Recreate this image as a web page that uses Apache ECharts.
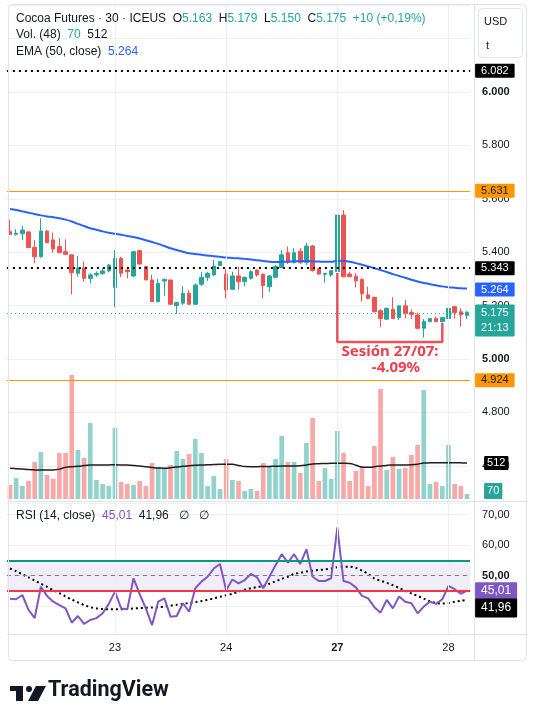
<!DOCTYPE html>
<html>
<head>
<meta charset="utf-8">
<script src="https://cdn.jsdelivr.net/npm/echarts@6/dist/echarts.min.js"></script>
<style>
  html, body { margin: 0; padding: 0; background: #fff; }
  #chart { width: 536px; height: 709px; }
</style>
</head>
<body>
<div id="chart"></div>
<script>
// sesiones visibles (velas de 30 min)
const sessions = ['22', '23', '24', '27', '28'];
const sessionBars = [17, 18, 18, 18, 4];
const sessionStart = [1, 0, 0, 0, 0];
const barTimes = ['04:45', '05:15', '05:45', '06:15', '06:45', '07:15', '07:45', '08:15', '08:45',
  '09:15', '09:45', '10:15', '10:45', '11:15', '11:45', '12:15', '12:45', '13:15'];
const dayTicks = ['23', '24', '27', '28'];

// [open, close, low, high]
const ohlc = [
  [5.477, 5.467, 5.464, 5.521], [5.467, 5.471, 5.462, 5.486], [5.469, 5.483, 5.446, 5.499],
  [5.476, 5.418, 5.416, 5.478], [5.418, 5.383, 5.358, 5.446], [5.383, 5.479, 5.379, 5.527],
  [5.479, 5.436, 5.433, 5.483], [5.446, 5.412, 5.398, 5.473], [5.421, 5.398, 5.398, 5.452],
  [5.402, 5.392, 5.390, 5.448], [5.390, 5.323, 5.242, 5.390], [5.321, 5.340, 5.308, 5.386],
  [5.340, 5.302, 5.290, 5.365], [5.302, 5.315, 5.283, 5.321], [5.315, 5.320, 5.308, 5.328],
  [5.320, 5.330, 5.315, 5.340], [5.330, 5.352, 5.325, 5.356],
  [5.268, 5.377, 5.194, 5.408], [5.377, 5.321, 5.306, 5.383], [5.333, 5.327, 5.302, 5.343],
  [5.311, 5.402, 5.306, 5.405], [5.406, 5.356, 5.352, 5.408], [5.346, 5.296, 5.296, 5.348],
  [5.296, 5.215, 5.215, 5.315], [5.215, 5.283, 5.212, 5.300], [5.292, 5.298, 5.236, 5.302],
  [5.296, 5.205, 5.202, 5.296], [5.200, 5.211, 5.169, 5.213], [5.209, 5.246, 5.202, 5.273],
  [5.246, 5.205, 5.202, 5.258], [5.205, 5.277, 5.202, 5.283], [5.280, 5.306, 5.273, 5.327],
  [5.306, 5.321, 5.293, 5.327], [5.315, 5.348, 5.311, 5.371], [5.350, 5.365, 5.349, 5.367],
  [5.318, 5.258, 5.227, 5.336], [5.261, 5.311, 5.261, 5.327], [5.311, 5.290, 5.261, 5.346],
  [5.290, 5.306, 5.271, 5.308], [5.302, 5.327, 5.298, 5.333], [5.333, 5.315, 5.308, 5.336],
  [5.318, 5.275, 5.227, 5.318], [5.271, 5.311, 5.252, 5.315], [5.306, 5.346, 5.302, 5.352],
  [5.343, 5.390, 5.340, 5.408], [5.398, 5.361, 5.356, 5.421], [5.361, 5.398, 5.358, 5.415],
  [5.404, 5.361, 5.356, 5.415], [5.361, 5.423, 5.352, 5.436], [5.423, 5.331, 5.327, 5.427],
  [5.338, 5.318, 5.315, 5.340], [5.317, 5.321, 5.286, 5.321], [5.315, 5.331, 5.308, 5.333],
  [5.327, 5.539, 5.325, 5.558], [5.539, 5.308, 5.306, 5.558], [5.318, 5.308, 5.306, 5.327],
  [5.310, 5.293, 5.268, 5.321], [5.298, 5.244, 5.215, 5.302], [5.240, 5.227, 5.223, 5.271],
  [5.231, 5.177, 5.174, 5.233], [5.181, 5.152, 5.119, 5.186], [5.149, 5.190, 5.149, 5.192],
  [5.186, 5.152, 5.149, 5.231], [5.155, 5.199, 5.146, 5.199], [5.199, 5.171, 5.152, 5.221],
  [5.174, 5.167, 5.149, 5.186], [5.165, 5.115, 5.111, 5.174], [5.115, 5.140, 5.081, 5.149],
  [5.140, 5.152, 5.137, 5.152], [5.152, 5.140, 5.137, 5.159], [5.140, 5.155, 5.137, 5.158],
  [5.152, 5.190, 5.086, 5.231], [5.196, 5.174, 5.152, 5.199], [5.177, 5.165, 5.121, 5.190],
  [5.163, 5.175, 5.150, 5.179]
];

const volumes = [200, 299, 185, 256, 527, 669, 342, 290, 655, 655, 1764, 697, 583, 1081, 271, 214, 185,
  1010, 242, 214, 200, 256, 185, 512, 455, 427, 484, 683, 569, 640, 854, 655, 185, 327, 143,
  569, 271, 256, 114, 143, 114, 512, 455, 569, 896, 527, 527, 370, 797, 1152, 256, 441, 285,
  967, 655, 256, 399, 455, 185, 754, 1565, 413, 598, 427, 441, 626, 768, 1550, 214, 242, 185,
  768, 214, 185, 70];

const volumeMA = [437, 432, 426, 418, 414, 412, 412, 414, 425, 450, 460, 465, 475, 482, 484, 485, 485,
  486, 485, 482, 476, 468, 458, 448, 440, 438, 445, 455, 465, 474, 480, 484, 486, 490, 493,
  494, 493, 478, 462, 460, 460, 462, 464, 466, 469, 469, 470, 472, 485, 498, 502, 505, 507,
  508, 508, 506, 480, 455, 452, 458, 470, 478, 483, 484, 485, 487, 495, 512, 514, 515, 516,
  516, 515, 514, 512];

const ema50 = [5.562, 5.558, 5.553, 5.548, 5.543, 5.538, 5.534, 5.531, 5.527, 5.522, 5.515, 5.506,
  5.498, 5.490, 5.484, 5.478, 5.473, 5.469, 5.465, 5.461, 5.457, 5.451, 5.445, 5.438, 5.431,
  5.423, 5.415, 5.408, 5.402, 5.396, 5.393, 5.390, 5.388, 5.385, 5.383, 5.380, 5.378, 5.377,
  5.375, 5.373, 5.370, 5.367, 5.364, 5.363, 5.364, 5.365, 5.366, 5.367, 5.367, 5.366, 5.365,
  5.364, 5.364, 5.368, 5.367, 5.364, 5.359, 5.353, 5.347, 5.340, 5.333, 5.326, 5.318, 5.311,
  5.304, 5.297, 5.290, 5.285, 5.280, 5.276, 5.272, 5.269, 5.267, 5.265, 5.264];

const rsi = [42.4, 42.2, 43.6, 38.7, 36.0, 46.3, 43.3, 41.4, 40.3, 39.2, 34.5, 36.7, 34.1, 35.4, 36.0,
  37.6, 40.7, 44.7, 39.2, 38.9, 49.1, 43.9, 39.2, 33.7, 41.4, 42.5, 36.5, 36.7, 40.9, 38.1,
  45.8, 48.0, 49.6, 52.3, 53.8, 45.2, 48.7, 47.4, 48.5, 50.5, 49.4, 45.8, 49.6, 53.4, 57.0,
  54.2, 57.0, 53.8, 58.6, 49.6, 48.2, 48.2, 49.1, 65.8, 48.2, 47.6, 46.1, 43.3, 42.5, 39.6,
  37.8, 42.0, 39.2, 43.1, 41.4, 40.9, 37.6, 39.8, 41.4, 40.7, 42.2, 46.6, 45.5, 44.0, 45.01];

const rsiMA = [52.3, 51.4, 50.4, 49.4, 48.3, 47.3, 46.3, 45.2, 44.2, 43.1, 42.1, 41.2, 40.3, 39.6, 39.2,
  39.0, 38.9, 38.9, 38.9, 39.0, 39.2, 39.3, 39.4, 39.5, 39.6, 39.8, 40.1, 40.4, 40.7, 41.0,
  41.3, 41.6, 42.0, 42.5, 43.0, 43.5, 44.0, 44.7, 45.3, 45.8, 46.2, 46.5, 47.3, 48.1, 48.9,
  49.6, 50.5, 50.9, 51.3, 51.6, 51.8, 52.0, 52.3, 52.7, 52.9, 52.9, 52.5, 51.6, 50.5, 49.0,
  48.3, 47.6, 46.8, 45.9, 45.0, 44.1, 43.3, 42.4, 41.5, 41.0, 40.8, 41.0, 41.4, 41.7, 41.96];

const dottedLevels = [6.082, 5.343];
const orangeLevels = [5.631, 4.924];
const rsiBands = [55, 50, 45];
// recuadro rojo de la sesion del 27/07
const bracket = [[53, 5.322], [53, 5.064], [70, 5.064], [70, 5.135]];

const categories = [];
sessions.forEach((d, s) => {
  for (let k = 0; k < sessionBars[s]; k++) categories.push(d + ' ' + barTimes[sessionStart[s] + k]);
});
const n = ohlc.length;
const last = ohlc[n - 1];

const UP = '#26a69a', DOWN = '#ef5350';
const FONT = 'Liberation Sans, Arial, sans-serif';
const INK = '#131722';

const volData = volumes.map((v, i) => ({
  value: v,
  itemStyle: { color: ohlc[i][1] >= ohlc[i][0] ? 'rgba(38,166,154,0.5)' : 'rgba(239,83,80,0.5)' }
}));

const boxLabel = (bg, fg, txt, extra) => Object.assign({
  show: true, position: 'end', distance: 5, formatter: txt,
  backgroundColor: bg, color: fg, padding: [2, 6, 1, 6],
  fontSize: 11, fontFamily: FONT, borderRadius: 1
}, extra || {});

const hidden = { color: 'rgba(0,0,0,0)', width: 1, type: 'solid' };
const dayLines = dayTicks.map(d => ({ xAxis: categories.indexOf(d + ' 04:45') }));
const dayLineStyle = { color: '#eceef2', width: 1, type: 'solid' };

const chart = echarts.init(document.getElementById('chart'));

const prevClose = ohlc[n - 2][1];
const chg = Math.round((last[1] - prevClose) * 1000);
const chgPct = ((last[1] - prevClose) / prevClose * 100).toFixed(2).replace('.', ',');
const fmtRsi = v => v.toFixed(2).replace('.', ',');

const option = {
  animation: false,
  backgroundColor: '#fff',
  textStyle: { fontFamily: FONT },
  grid: [
    { left: 6.9, top: 5, width: 463.2, height: 496 },
    { left: 6.9, top: 369, width: 463.2, height: 130 },
    { left: 6.9, top: 503, width: 463.2, height: 131 }
  ],
  xAxis: [0, 1, 2].map(g => ({
    type: 'category', gridIndex: g, data: categories, boundaryGap: true,
    axisLine: { show: false }, axisTick: { show: false }, splitLine: { show: false },
    axisLabel: g === 2 ? {
      show: true, margin: 8, color: INK, fontSize: 11,
      interval: (idx, val) => val.endsWith('04:45'),
      formatter: val => {
        const d = val.split(' ')[0];
        return d === '27' ? '{b|' + d + '}' : d;
      },
      rich: { b: { fontWeight: 'bold', fontSize: 11, color: INK } }
    } : { show: false }
  })),
  yAxis: [
    {
      type: 'value', gridIndex: 0, position: 'right', min: 4.468, max: 6.326,
      splitNumber: 9, minInterval: 0.2, maxInterval: 0.2,
      axisLine: { show: false }, axisTick: { show: false },
      splitLine: { lineStyle: { color: '#eef0f4' } },
      axisLabel: {
        margin: 12, color: INK, fontSize: 11, showMinLabel: false, showMaxLabel: false,
        formatter: v => {
          if (Math.abs(v * 5 - Math.round(v * 5)) > 1e-6) return '';
          const s = v.toFixed(3);
          return Math.abs(v - Math.round(v)) < 1e-6 ? '{b|' + s + '}' : s;
        },
        rich: { b: { fontWeight: 'bold', fontSize: 11, color: INK } }
      }
    },
    {
      type: 'value', gridIndex: 1, min: 0, max: 1849, show: false,
      splitLine: { show: false }
    },
    {
      type: 'value', gridIndex: 2, position: 'right', min: 30.8, max: 73.8,
      splitNumber: 4, minInterval: 10, maxInterval: 10,
      axisLine: { show: false }, axisTick: { show: false },
      splitLine: { lineStyle: { color: '#eef0f4' } },
      axisLabel: {
        margin: 12, color: INK, fontSize: 11, showMinLabel: false, showMaxLabel: false,
        formatter: v => {
          if (Math.abs(v / 10 - Math.round(v / 10)) > 1e-6) return '';
          const s = fmtRsi(v);
          return v === 50 ? '{b|' + s + '}' : s;
        },
        rich: { b: { fontWeight: 'bold', fontSize: 11, color: INK } }
      }
    }
  ],
  series: [
    {
      name: 'dias', type: 'line', xAxisIndex: 0, yAxisIndex: 0, data: [], z: 0, silent: true,
      markLine: { symbol: 'none', silent: true, label: { show: false }, lineStyle: dayLineStyle, data: dayLines }
    },
    {
      name: 'dias rsi', type: 'line', xAxisIndex: 2, yAxisIndex: 2, data: [], z: 0, silent: true,
      markLine: { symbol: 'none', silent: true, label: { show: false }, lineStyle: dayLineStyle, data: dayLines },
      markArea: {
        silent: true, itemStyle: { color: 'rgba(126,87,194,0.1)' },
        data: [[{ yAxis: rsiBands[2] }, { yAxis: rsiBands[0] }]]
      }
    },
    {
      name: 'Vol', type: 'bar', xAxisIndex: 1, yAxisIndex: 1, data: volData,
      barWidth: '76%', z: 1,
      markLine: {
        symbol: 'none', silent: true,
        data: [
          { yAxis: volumes[n - 1], lineStyle: hidden,
            label: boxLabel(UP, '#fff', String(volumes[n - 1]), { distance: 14, offset: [0, -3], padding: [3, 3, 2, 3] }) }
        ]
      }
    },
    {
      name: 'Vol MA', type: 'line', xAxisIndex: 1, yAxisIndex: 1, data: volumeMA,
      symbol: 'none', smooth: 0.4, lineStyle: { color: '#1e1e1e', width: 1.5 }, z: 2,
      markLine: {
        symbol: 'none', silent: true,
        data: [
          { yAxis: volumeMA[n - 1], lineStyle: hidden,
            label: boxLabel('#000', '#fff', String(volumeMA[n - 1]), { distance: 14, padding: [2, 3, 1, 3] }) }
        ]
      }
    },
    {
      name: 'Cocoa', type: 'candlestick', xAxisIndex: 0, yAxisIndex: 0, data: ohlc,
      barWidth: 4, z: 3,
      itemStyle: { color: UP, color0: DOWN, borderColor: UP, borderColor0: DOWN, borderWidth: 1 },
      markLine: {
        symbol: 'none', silent: true,
        data: [
          { yAxis: dottedLevels[0], lineStyle: { color: '#000', type: [2, 4], width: 2 },
            label: boxLabel('#000', '#fff', dottedLevels[0].toFixed(3)) },
          { yAxis: orangeLevels[0], lineStyle: { color: '#ff9800', type: 'solid', width: 1 },
            label: boxLabel('#ff9800', INK, orangeLevels[0].toFixed(3)) },
          { yAxis: dottedLevels[1], lineStyle: { color: '#000', type: [2, 4], width: 2 },
            label: boxLabel('#000', '#fff', dottedLevels[1].toFixed(3)) },
          { yAxis: last[1], lineStyle: { color: UP, type: [1, 3], width: 1 },
            label: boxLabel(UP, '#fff', last[1].toFixed(3) + '\n21:13', { lineHeight: 15, padding: [1, 6, 1, 6], offset: [0, 7] }) },
          { yAxis: orangeLevels[1], lineStyle: { color: '#ff9800', type: 'solid', width: 1 },
            label: boxLabel('#ff9800', INK, orangeLevels[1].toFixed(3)) }
        ]
      }
    },
    {
      name: 'EMA 50', type: 'line', xAxisIndex: 0, yAxisIndex: 0, data: ema50,
      symbol: 'none', smooth: 0.3, lineStyle: { color: '#2962ff', width: 2 }, z: 4,
      markLine: {
        symbol: 'none', silent: true,
        data: [
          { yAxis: ema50[n - 1], lineStyle: hidden,
            label: boxLabel('#2962ff', '#fff', ema50[n - 1].toFixed(3)) }
        ]
      }
    },
    {
      name: 'Sesion', type: 'line', xAxisIndex: 0, yAxisIndex: 0, data: bracket,
      symbol: 'none', lineStyle: { color: 'rgba(232,52,68,0.85)', width: 2.5 }, z: 5, silent: true
    },
    {
      name: 'RSI', type: 'line', xAxisIndex: 2, yAxisIndex: 2, data: rsi,
      symbol: 'none', lineStyle: { color: '#7e57c2', width: 2 }, z: 3,
      markLine: {
        symbol: 'none', silent: true,
        data: [
          { yAxis: rsiBands[0], lineStyle: { color: '#089981', width: 2, type: 'solid' }, label: { show: false } },
          { yAxis: rsiBands[1], lineStyle: { color: '#787b86', width: 1, type: [4, 4] }, label: { show: false } },
          { yAxis: rsiBands[2], lineStyle: { color: '#f23645', width: 2, type: 'solid' }, label: { show: false } },
          { yAxis: rsi[n - 1], lineStyle: hidden,
            label: boxLabel('#7e57c2', '#fff', fmtRsi(rsi[n - 1]), { padding: [3, 6, 2, 6], fontSize: 12 }) },
          { yAxis: rsiMA[n - 1], lineStyle: hidden,
            label: boxLabel('#000', '#fff', fmtRsi(rsiMA[n - 1]), { padding: [4, 6, 3, 6], fontSize: 12, offset: [0, 8] }) }
        ]
      }
    },
    {
      name: 'RSI MA', type: 'line', xAxisIndex: 2, yAxisIndex: 2, data: rsiMA,
      symbol: 'none', smooth: 0.3, lineStyle: { color: '#000', width: 2, type: [2, 3] }, z: 2
    }
  ],
  graphic: [
    { type: 'rect', z: 50, silent: true, shape: { x: 8.5, y: 4.5, width: 518, height: 656, r: 4 },
      style: { fill: 'none', stroke: '#e0e3eb', lineWidth: 1 } },
    { type: 'line', z: 50, silent: true, shape: { x1: 474.5, y1: 4.5, x2: 474.5, y2: 660.5 },
      style: { stroke: '#e0e3eb', lineWidth: 1 } },
    { type: 'line', z: 50, silent: true, shape: { x1: 8.5, y1: 501.5, x2: 526.5, y2: 501.5 },
      style: { stroke: '#e0e3eb', lineWidth: 1 } },
    { type: 'line', z: 50, silent: true, shape: { x1: 8.5, y1: 634.5, x2: 526.5, y2: 634.5 },
      style: { stroke: '#e0e3eb', lineWidth: 1 } },
    { type: 'rect', z: 60, silent: true, shape: { x: 478.5, y: 8.5, width: 44, height: 49, r: 4 },
      style: { fill: '#fff', stroke: '#e0e3eb', lineWidth: 1 } },
    { type: 'text', z: 61, silent: true, x: 484, y: 16,
      style: { text: 'USD', font: '11px ' + FONT, fill: INK } },
    { type: 'text', z: 61, silent: true, x: 486, y: 40,
      style: { text: 't', font: '11px ' + FONT, fill: INK } },
    { type: 'text', z: 61, silent: true, x: 16, y: 13,
      style: {
        text: '{k|Cocoa Futures · 30 · ICEUS}  {k|O}{g|' + last[0].toFixed(3) + '}  {k|H}{g|' + last[3].toFixed(3) +
          '}  {k|L}{g|' + last[2].toFixed(3) + '}  {k|C}{g|' + last[1].toFixed(3) + '}  {g|+' + chg + ' (+' + chgPct + '%)}',
        rich: {
          k: { fontSize: 12, fontFamily: FONT, fill: INK, color: INK },
          g: { fontSize: 12, fontFamily: FONT, fill: UP, color: UP }
        }
      } },
    { type: 'text', z: 61, silent: true, x: 16, y: 29,
      style: {
        text: '{k|Vol. (48)}  {g|' + volumes[n - 1] + '}  {k|' + volumeMA[n - 1] + '}',
        rich: {
          k: { fontSize: 12, fontFamily: FONT, fill: INK, color: INK },
          g: { fontSize: 12, fontFamily: FONT, fill: UP, color: UP }
        }
      } },
    { type: 'text', z: 61, silent: true, x: 16, y: 46,
      style: {
        text: '{k|EMA (50, close)}  {b|' + ema50[n - 1].toFixed(3) + '}',
        rich: {
          k: { fontSize: 12, fontFamily: FONT, fill: INK, color: INK },
          b: { fontSize: 12, fontFamily: FONT, fill: '#2962ff', color: '#2962ff' }
        }
      } },
    { type: 'text', z: 61, silent: true, x: 16, y: 510,
      style: {
        text: '{k|RSI (14, close)}  {p|' + fmtRsi(rsi[n - 1]) + '}  {k|' + fmtRsi(rsiMA[n - 1]) + '}   {k|∅}   {k|∅}',
        rich: {
          k: { fontSize: 12, fontFamily: FONT, fill: INK, color: INK },
          p: { fontSize: 12, fontFamily: FONT, fill: '#7e57c2', color: '#7e57c2' }
        }
      } },
    { type: 'text', z: 61, silent: true, x: 390, y: 352,
      style: { text: 'Sesión 27/07:', font: 'bold 15px "Noto Sans", sans-serif', fill: '#e8404e',
        align: 'center', verticalAlign: 'middle' } },
    { type: 'text', z: 61, silent: true, x: 396, y: 368,
      style: { text: '-4.09%', font: 'bold 15px "Noto Sans", sans-serif', fill: '#e8404e',
        align: 'center', verticalAlign: 'middle' } },
    // logo TradingView
    { type: 'rect', silent: true, shape: { x: 10, y: 686, width: 13, height: 5 }, style: { fill: '#131722' } },
    { type: 'rect', silent: true, shape: { x: 16, y: 686, width: 7, height: 15 }, style: { fill: '#131722' } },
    { type: 'circle', silent: true, shape: { cx: 29, cy: 689, r: 3 }, style: { fill: '#131722' } },
    { type: 'polygon', silent: true, shape: { points: [[36, 686], [46, 686], [38, 701], [28, 701]] }, style: { fill: '#131722' } },
    { type: 'text', silent: true, x: 48, y: 680,
      style: { text: 'TradingView', font: 'bold 21.5px Roboto, sans-serif', fill: '#131722' } }
  ]
};

chart.setOption(option);
</script>
</body>
</html>
